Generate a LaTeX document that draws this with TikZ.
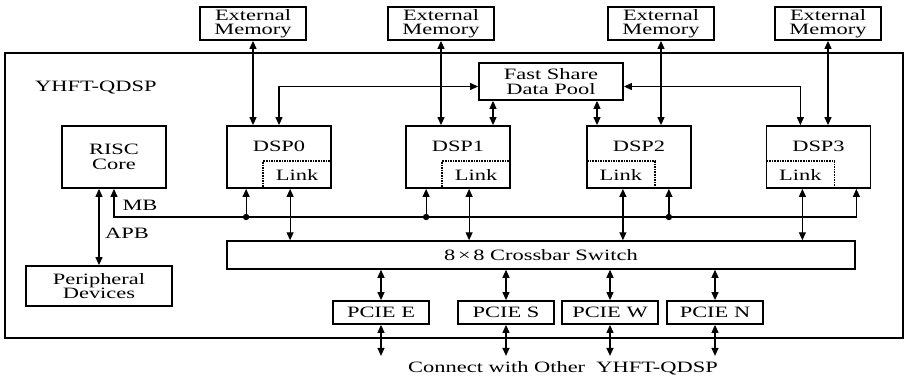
\documentclass[tikz,border=0pt]{standalone}
\usepackage{fontspec}
\setmainfont[FakeStretch=1.42]{Liberation Serif}
\usetikzlibrary{arrows.meta}
\usetikzlibrary{positioning}
\usetikzlibrary{calc}
\newcommand{\dgfont}{\fontsize{15.8}{14.5}\selectfont}

\tikzset{
  blk/.style={draw, line width=1.8pt, inner sep=0pt, align=center},
  membox/.style={blk, minimum width=106pt, minimum height=33pt},
  dspbox/.style={blk, minimum width=104pt, minimum height=62pt},
  linkbox/.style={draw, densely dotted, line width=1.6pt, minimum width=68pt, minimum height=27pt, inner sep=0pt},
  pciebox/.style={blk, minimum width=96pt, minimum height=23pt},
  bi/.style={{Triangle[length=8pt,width=7pt]}-{Triangle[length=8pt,width=7pt]}, line width=1.2pt},
  uni/.style={-{Triangle[length=8pt,width=7pt]}, line width=1.2pt},
}

\begin{document}
\begin{tikzpicture}[x=1pt, y=-1pt, every node/.style={font=\dgfont}]
    \useasboundingbox (0,0) rectangle (906,381);

    % Chip
    \node[draw, line width=1.6pt, minimum width=898pt, minimum height=285pt] (chip) at (454,195.5) {};
    \node[anchor=west, inner sep=0pt] (chipname) at (35,88) {YHFT-QDSP};

    % External memories
    \node[membox] (mem0) at (253,23.5) {External\\Memory};
    \node[membox] (mem1) at (441,23.5) {External\\Memory};
    \node[membox] (mem2) at (661,23.5) {External\\Memory};
    \node[membox] (mem3) at (828,23.5) {External\\Memory};

    % Share pool
    \node[blk, minimum width=144pt, minimum height=37pt] (pool) at (551,81.5) {Fast Share\\Data Pool};

    % Cores
    \node[dspbox] (risc) at (114,157) {RISC\\Core};
    \node[dspbox] (dsp0) at (279,157) {};
    \node (dsp0name) at ([yshift=11pt]dsp0.center) {DSP0};
    \node[linkbox, anchor=south east] (link0) at (dsp0.south east) {Link};
    \node[dspbox] (dsp1) at (458,157) {};
    \node (dsp1name) at ([yshift=11pt]dsp1.center) {DSP1};
    \node[linkbox, anchor=south east] (link1) at (dsp1.south east) {Link};
    \node[dspbox] (dsp2) at (639,157) {};
    \node (dsp2name) at ([yshift=11pt]dsp2.center) {DSP2};
    \node[linkbox, anchor=south west] (link2) at (dsp2.south west) {Link};
    \node[dspbox] (dsp3) at (818.5,157) {};
    \node (dsp3name) at ([yshift=11pt]dsp3.center) {DSP3};
    \node[linkbox, anchor=south west] (link3) at (dsp3.south west) {Link};

    % Crossbar and peripherals
    \node[draw, line width=1.5pt, minimum width=628pt, minimum height=28pt] (xbar) at (541,255) {8\,×\,8 Crossbar Switch};
    \node[blk, minimum width=146pt, minimum height=40pt] (periph) at (99,286) {Peripheral\\Devices};

    % PCIE ports
    \node[pciebox] (pcieE) at (381,312.5) {PCIE E};
    \node[pciebox] (pcieS) at (506,312.5) {PCIE S};
    \node[pciebox] (pcieW) at (610,312.5) {PCIE W};
    \node[pciebox] (pcieN) at (715,312.5) {PCIE N};
    \node (other) at (563,368) {Connect with Other\ \ YHFT-QDSP};

    % Memory links
    \draw[bi] (mem0.south) -- (mem0.south |- dsp0.north);
    \draw[bi] (mem1.south) -- (mem1.south |- dsp1.north);
    \draw[bi] (mem2.south) -- (mem2.south |- dsp2.north);
    \draw[bi] (mem3.south) -- (mem3.south |- dsp3.north);

    % Pool links
    \draw[bi] (dsp0.north) |- ([yshift=-5pt]pool.west);
    \draw[bi] ([yshift=-5pt]pool.east) -| (dsp3.north -| link3.north);
    \coordinate (p1) at ([xshift=-58pt]pool.south);
    \draw[bi] (p1) -- (p1 |- dsp1.north);
    \coordinate (p2) at ([xshift=46pt]pool.south);
    \draw[bi] (p2) -- (p2 |- dsp2.north);

    % MB bus
    \coordinate (bus) at (114,217);
    \coordinate (mb3) at ([xshift=-15pt]dsp3.south east);
    \draw[bi] (risc.south) -- (bus) -| (mb3);
    \node (mb) at (140,205) {MB};
    \coordinate (d0) at ([xshift=20pt]dsp0.south west);
    \draw[uni] (d0 |- bus) -- (d0);
    \fill (d0 |- bus) circle (3.2pt);
    \coordinate (d1) at ([xshift=21pt]dsp1.south west);
    \draw[uni] (d1 |- bus) -- (d1);
    \fill (d1 |- bus) circle (3.2pt);
    \coordinate (d2) at ([xshift=-23pt]dsp2.south east);
    \draw[uni] (d2 |- bus) -- (d2);
    \fill (d2 |- bus) circle (3.2pt);

    % APB
    \draw[bi] (periph.north) -- (periph.north |- risc.south);
    \node (apb) at (127,233) {APB};

    % Links to crossbar
    \draw[bi] ([xshift=-7pt]link0.south) -- ([xshift=-7pt]link0.south |- xbar.north);
    \draw[bi] ([xshift=-7pt]link1.south) -- ([xshift=-7pt]link1.south |- xbar.north);
    \draw[bi] ([xshift=2pt]link2.south) -- ([xshift=2pt]link2.south |- xbar.north);
    \draw[bi] ([xshift=2pt]link3.south) -- ([xshift=2pt]link3.south |- xbar.north);

    % Crossbar to ports
    \draw[bi] (pcieE.north) -- (pcieE.north |- xbar.south);
    \draw[bi] (pcieS.north) -- (pcieS.north |- xbar.south);
    \draw[bi] (pcieW.north) -- (pcieW.north |- xbar.south);
    \draw[bi] (pcieN.north) -- (pcieN.north |- xbar.south);

    % Off chip
    \coordinate (outE) at ([yshift=-31pt]pcieE.south);
    \draw[bi] (pcieE.south) -- (outE);
    \coordinate (outS) at ([yshift=-31pt]pcieS.south);
    \draw[bi] (pcieS.south) -- (outS);
    \coordinate (outW) at ([yshift=-31pt]pcieW.south);
    \draw[bi] (pcieW.south) -- (outW);
    \coordinate (outN) at ([yshift=-31pt]pcieN.south);
    \draw[bi] (pcieN.south) -- (outN);

\end{tikzpicture}
\end{document}
